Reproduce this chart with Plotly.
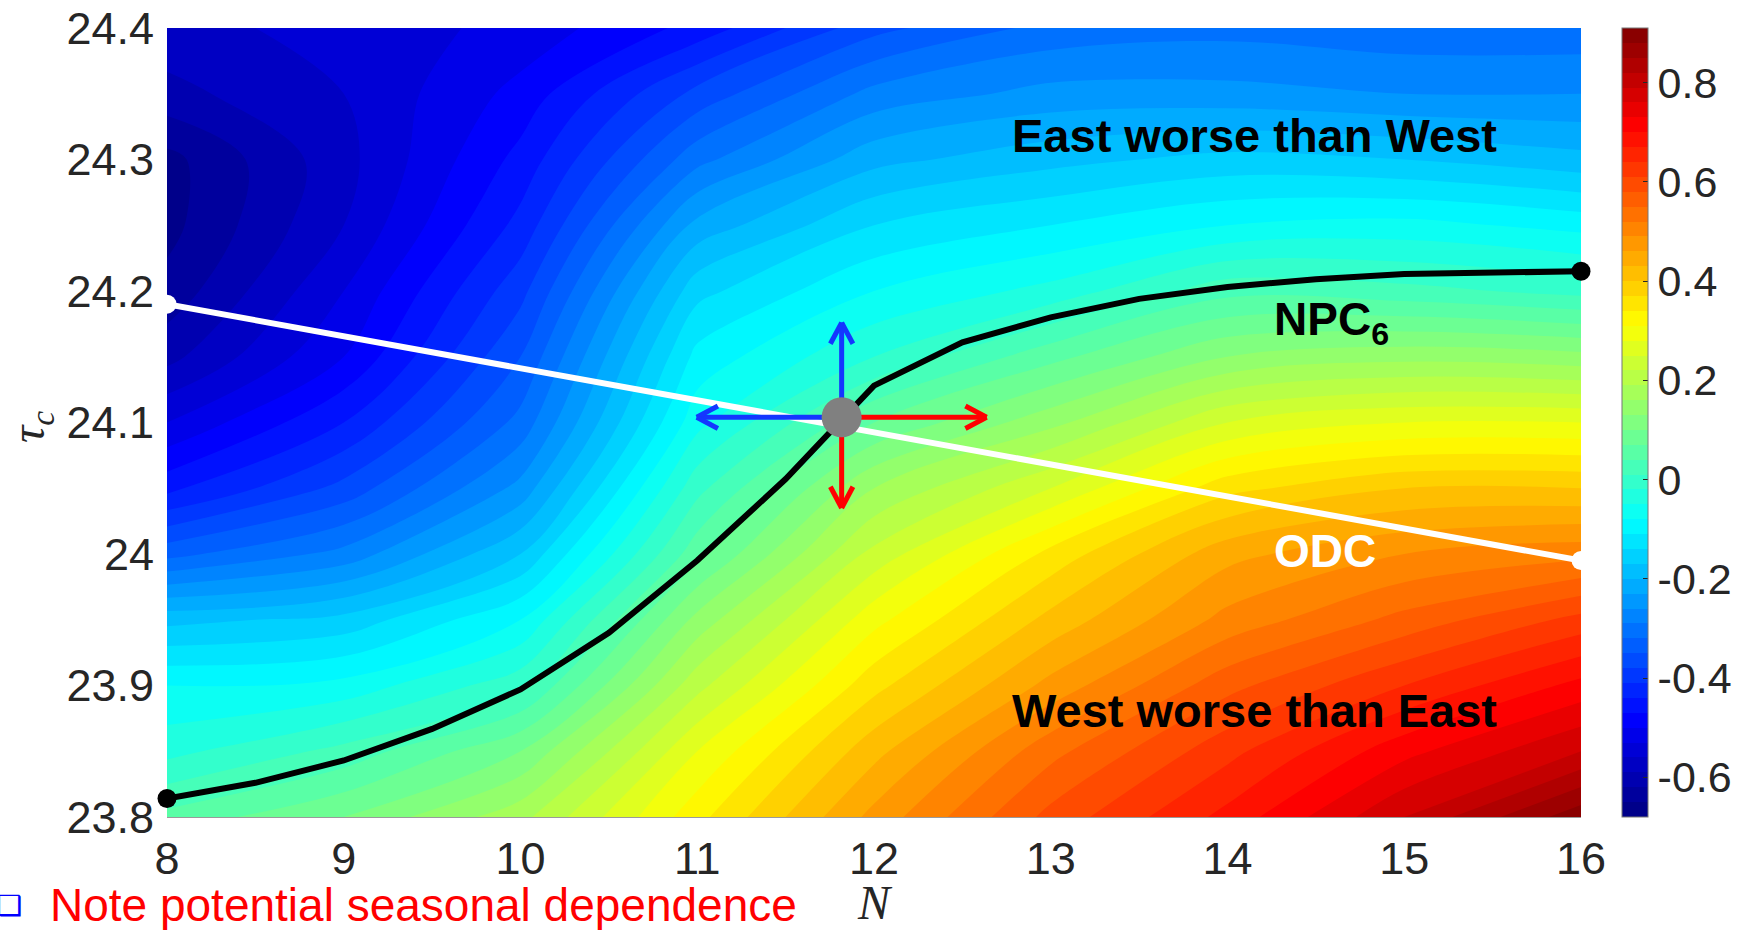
import math
import plotly.graph_objects as go

# ---------------- data ----------------
N_vals = [8, 9, 10, 11, 12, 13, 14, 15, 16]
tau_vals = [23.80, 23.85, 23.90, 23.95, 24.00, 24.05, 24.10, 24.15, 24.20, 24.25, 24.30, 24.35, 24.40]
# rows follow tau_vals, columns follow N_vals
z_field = [
    [0.05, 0.10, 0.18, 0.33, 0.47, 0.59, 0.68, 0.79, 0.90],
    [-0.03, 0.02, 0.10, 0.28, 0.42, 0.54, 0.63, 0.72, 0.79],
    [-0.08, -0.07, 0.00, 0.21, 0.36, 0.47, 0.57, 0.64, 0.71],
    [-0.18, -0.16, -0.08, 0.14, 0.30, 0.41, 0.50, 0.56, 0.62],
    [-0.33, -0.28, -0.17, 0.06, 0.23, 0.35, 0.45, 0.49, 0.51],
    [-0.45, -0.37, -0.25, 0.00, 0.16, 0.25, 0.36, 0.40, 0.40],
    [-0.53, -0.44, -0.31, -0.06, 0.07, 0.15, 0.25, 0.28, 0.28],
    [-0.60, -0.50, -0.35, -0.10, -0.02, 0.06, 0.13, 0.15, 0.14],
    [-0.64, -0.53, -0.39, -0.15, -0.08, -0.04, 0.03, 0.02, 0.00],
    [-0.66, -0.56, -0.43, -0.22, -0.14, -0.11, -0.08, -0.07, -0.09],
    [-0.66, -0.57, -0.46, -0.30, -0.21, -0.18, -0.16, -0.17, -0.19],
    [-0.60, -0.56, -0.49, -0.37, -0.28, -0.25, -0.25, -0.26, -0.26],
    [-0.57, -0.55, -0.52, -0.46, -0.36, -0.31, -0.30, -0.31, -0.31],
]
z_min, z_max = -0.68, 0.91

npc_N = [8, 8.5, 9, 9.5, 10, 10.5, 11, 11.5, 12, 12.5, 13, 13.5, 14, 14.5, 15, 15.5, 16]
npc_tau = [23.814, 23.826, 23.843, 23.867, 23.897, 23.940, 23.995, 24.057, 24.128,
           24.161, 24.180, 24.194, 24.203, 24.209, 24.213, 24.214, 24.215]

odc_N = [8, 16]
odc_tau = [24.19, 23.995]

op_N, op_tau = 11.817, 24.104           # operating point
arrow_dN = [-0.82, 0.0, 0.82, 0.0]      # left, up, right, down
arrow_dtau = [0.0, 0.072, 0.0, -0.069]
arrow_colors = ["rgb(20,55,255)", "rgb(20,55,255)", "rgb(255,0,0)", "rgb(255,0,0)"]

cbar_ticks = [-0.6, -0.4, -0.2, 0, 0.2, 0.4, 0.6, 0.8]
x_ticks = [8, 9, 10, 11, 12, 13, 14, 15, 16]
y_ticks = [23.8, 23.9, 24.0, 24.1, 24.2, 24.3, 24.4]

# ---------------- layout geometry ----------------
W, H = 1748, 930
ML, MR, MT, MB = 167, 167, 28, 113
PW, PH = W - ML - MR, H - MT - MB
PX_PER_N = PW / (x_ticks[-1] - x_ticks[0])
PX_PER_T = PH / (y_ticks[-1] - y_ticks[0])


def px(xp):
    return (xp - ML) / PW


def py(yp):
    return (MT + PH - yp) / PH


jet = [
    [0.0, "rgb(0,0,128)"],
    [0.125, "rgb(0,0,255)"],
    [0.375, "rgb(0,255,255)"],
    [0.625, "rgb(255,255,0)"],
    [0.875, "rgb(255,0,0)"],
    [1.0, "rgb(128,0,0)"],
]

TICK_COL = "#262626"
SANS = "Liberation Sans, Arial, Helvetica, sans-serif"
SERIF = "Liberation Serif, Times New Roman, serif"

fig = go.Figure()

fig.add_trace(go.Contour(
    x=N_vals, y=tau_vals, z=z_field,
    colorscale=jet, zmin=z_min, zmax=z_max, zauto=False,
    autocontour=False,
    contours=dict(start=z_min, end=z_max, size=0.03, coloring="fill", showlines=False),
    line=dict(width=0),
    colorbar=dict(
        x=px(1622), xanchor="left", xpad=0, ypad=0,
        y=0.5, yanchor="middle", len=1.0, lenmode="fraction",
        thickness=26, thicknessmode="pixels",
        outlinecolor="#777777", outlinewidth=1,
        tickvals=cbar_ticks, ticktext=[("%g" % v) for v in cbar_ticks],
        ticks="inside", ticklen=5, tickcolor=TICK_COL,
        tickfont=dict(family=SANS, size=43, color=TICK_COL),
    ),
    hoverinfo="skip",
))

# ODC line (white)
fig.add_trace(go.Scatter(
    x=odc_N, y=odc_tau, mode="lines+markers",
    line=dict(color="white", width=6),
    marker=dict(color="white", size=19),
    cliponaxis=False, showlegend=False, hoverinfo="skip",
))

# NPC6 line (black)
fig.add_trace(go.Scatter(
    x=npc_N, y=npc_tau, mode="lines",
    line=dict(color="black", width=6),
    cliponaxis=False, showlegend=False, hoverinfo="skip",
))
fig.add_trace(go.Scatter(
    x=[npc_N[0], npc_N[-1]], y=[npc_tau[0], npc_tau[-1]], mode="markers",
    marker=dict(color="black", size=19),
    cliponaxis=False, showlegend=False, hoverinfo="skip",
))

# arrows with open chevron heads
HEAD_LEN = 24.0
HEAD_ANG = math.radians(28)
for dN, dT, col in zip(arrow_dN, arrow_dtau, arrow_colors):
    tipN, tipT = op_N + dN, op_tau + dT
    ux_px, uy_px = dN * PX_PER_N, dT * PX_PER_T
    norm = math.hypot(ux_px, uy_px)
    bx, by = -ux_px / norm, -uy_px / norm
    xs, ys = [op_N, tipN, None], [op_tau, tipT, None]
    for s in (1, -1):
        a = s * HEAD_ANG
        rx = bx * math.cos(a) - by * math.sin(a)
        ry = bx * math.sin(a) + by * math.cos(a)
        xs += [tipN + HEAD_LEN * rx / PX_PER_N, tipN, None]
        ys += [tipT + HEAD_LEN * ry / PX_PER_T, tipT, None]
    fig.add_trace(go.Scatter(
        x=xs, y=ys, mode="lines",
        line=dict(color=col, width=5),
        showlegend=False, hoverinfo="skip",
    ))

# operating point
fig.add_trace(go.Scatter(
    x=[op_N], y=[op_tau], mode="markers",
    marker=dict(color="rgb(128,128,128)", size=40),
    showlegend=False, hoverinfo="skip",
))

annotations = [
    dict(x=14.15, y=24.318, xref="x", yref="y", text="<b>East worse than West</b>",
         xanchor="center", yanchor="middle",
         showarrow=False, font=dict(family=SANS, size=47, color="black")),
    dict(x=14.15, y=23.881, xref="x", yref="y", text="<b>West worse than East</b>",
         xanchor="center", yanchor="middle",
         showarrow=False, font=dict(family=SANS, size=47, color="black")),
    dict(x=14.25, y=24.176, xref="x", yref="y", text="<b>NPC<sub>6</sub></b>",
         xanchor="left", yanchor="middle",
         showarrow=False, font=dict(family=SANS, size=46, color="black")),
    dict(x=14.25, y=24.002, xref="x", yref="y", text="<b>ODC</b>",
         xanchor="left", yanchor="middle",
         showarrow=False, font=dict(family=SANS, size=46, color="white")),
    dict(x=px(875), y=py(902), xref="paper", yref="paper",
         text="<i>N</i>", showarrow=False, xanchor="center", yanchor="middle",
         font=dict(family=SERIF, size=48, color=TICK_COL)),
    dict(x=px(31), y=py(427), xref="paper", yref="paper",
         text="<i>τ</i><sub><i>c</i></sub>", textangle=-90, showarrow=False,
         xanchor="center", yanchor="middle",
         font=dict(family=SERIF, size=48, color=TICK_COL)),
    dict(x=px(48), y=py(905), xref="paper", yref="paper",
         text="Note potential seasonal dependence", xanchor="left", yanchor="middle",
         showarrow=False,
         font=dict(family=SANS, size=46, color="rgb(255,0,0)")),
    dict(x=px(9), y=py(905), xref="paper", yref="paper",
         text="❑", showarrow=False, xanchor="center", yanchor="middle",
         font=dict(family="DejaVu Sans", size=28, color="rgb(0,0,255)")),
]

fig.update_layout(
    width=W, height=H,
    margin=dict(l=ML, r=MR, t=MT, b=MB, pad=0, autoexpand=False),
    paper_bgcolor="white", plot_bgcolor="white",
    showlegend=False,
    annotations=annotations,
    xaxis=dict(range=[x_ticks[0], x_ticks[-1]], tickvals=x_ticks,
               showgrid=False, zeroline=False, ticks="",
               showline=True, linecolor="#9a9a9a", linewidth=1,
               tickfont=dict(family=SANS, size=45, color=TICK_COL),
               ticklabelstandoff=2),
    yaxis=dict(range=[y_ticks[0], y_ticks[-1]], tickvals=y_ticks,
               ticktext=[("%g" % v) for v in y_ticks],
               showgrid=False, zeroline=False, ticks="",
               tickfont=dict(family=SANS, size=45, color=TICK_COL),
               ticklabelstandoff=12),
)

fig.write_html("out.html")
